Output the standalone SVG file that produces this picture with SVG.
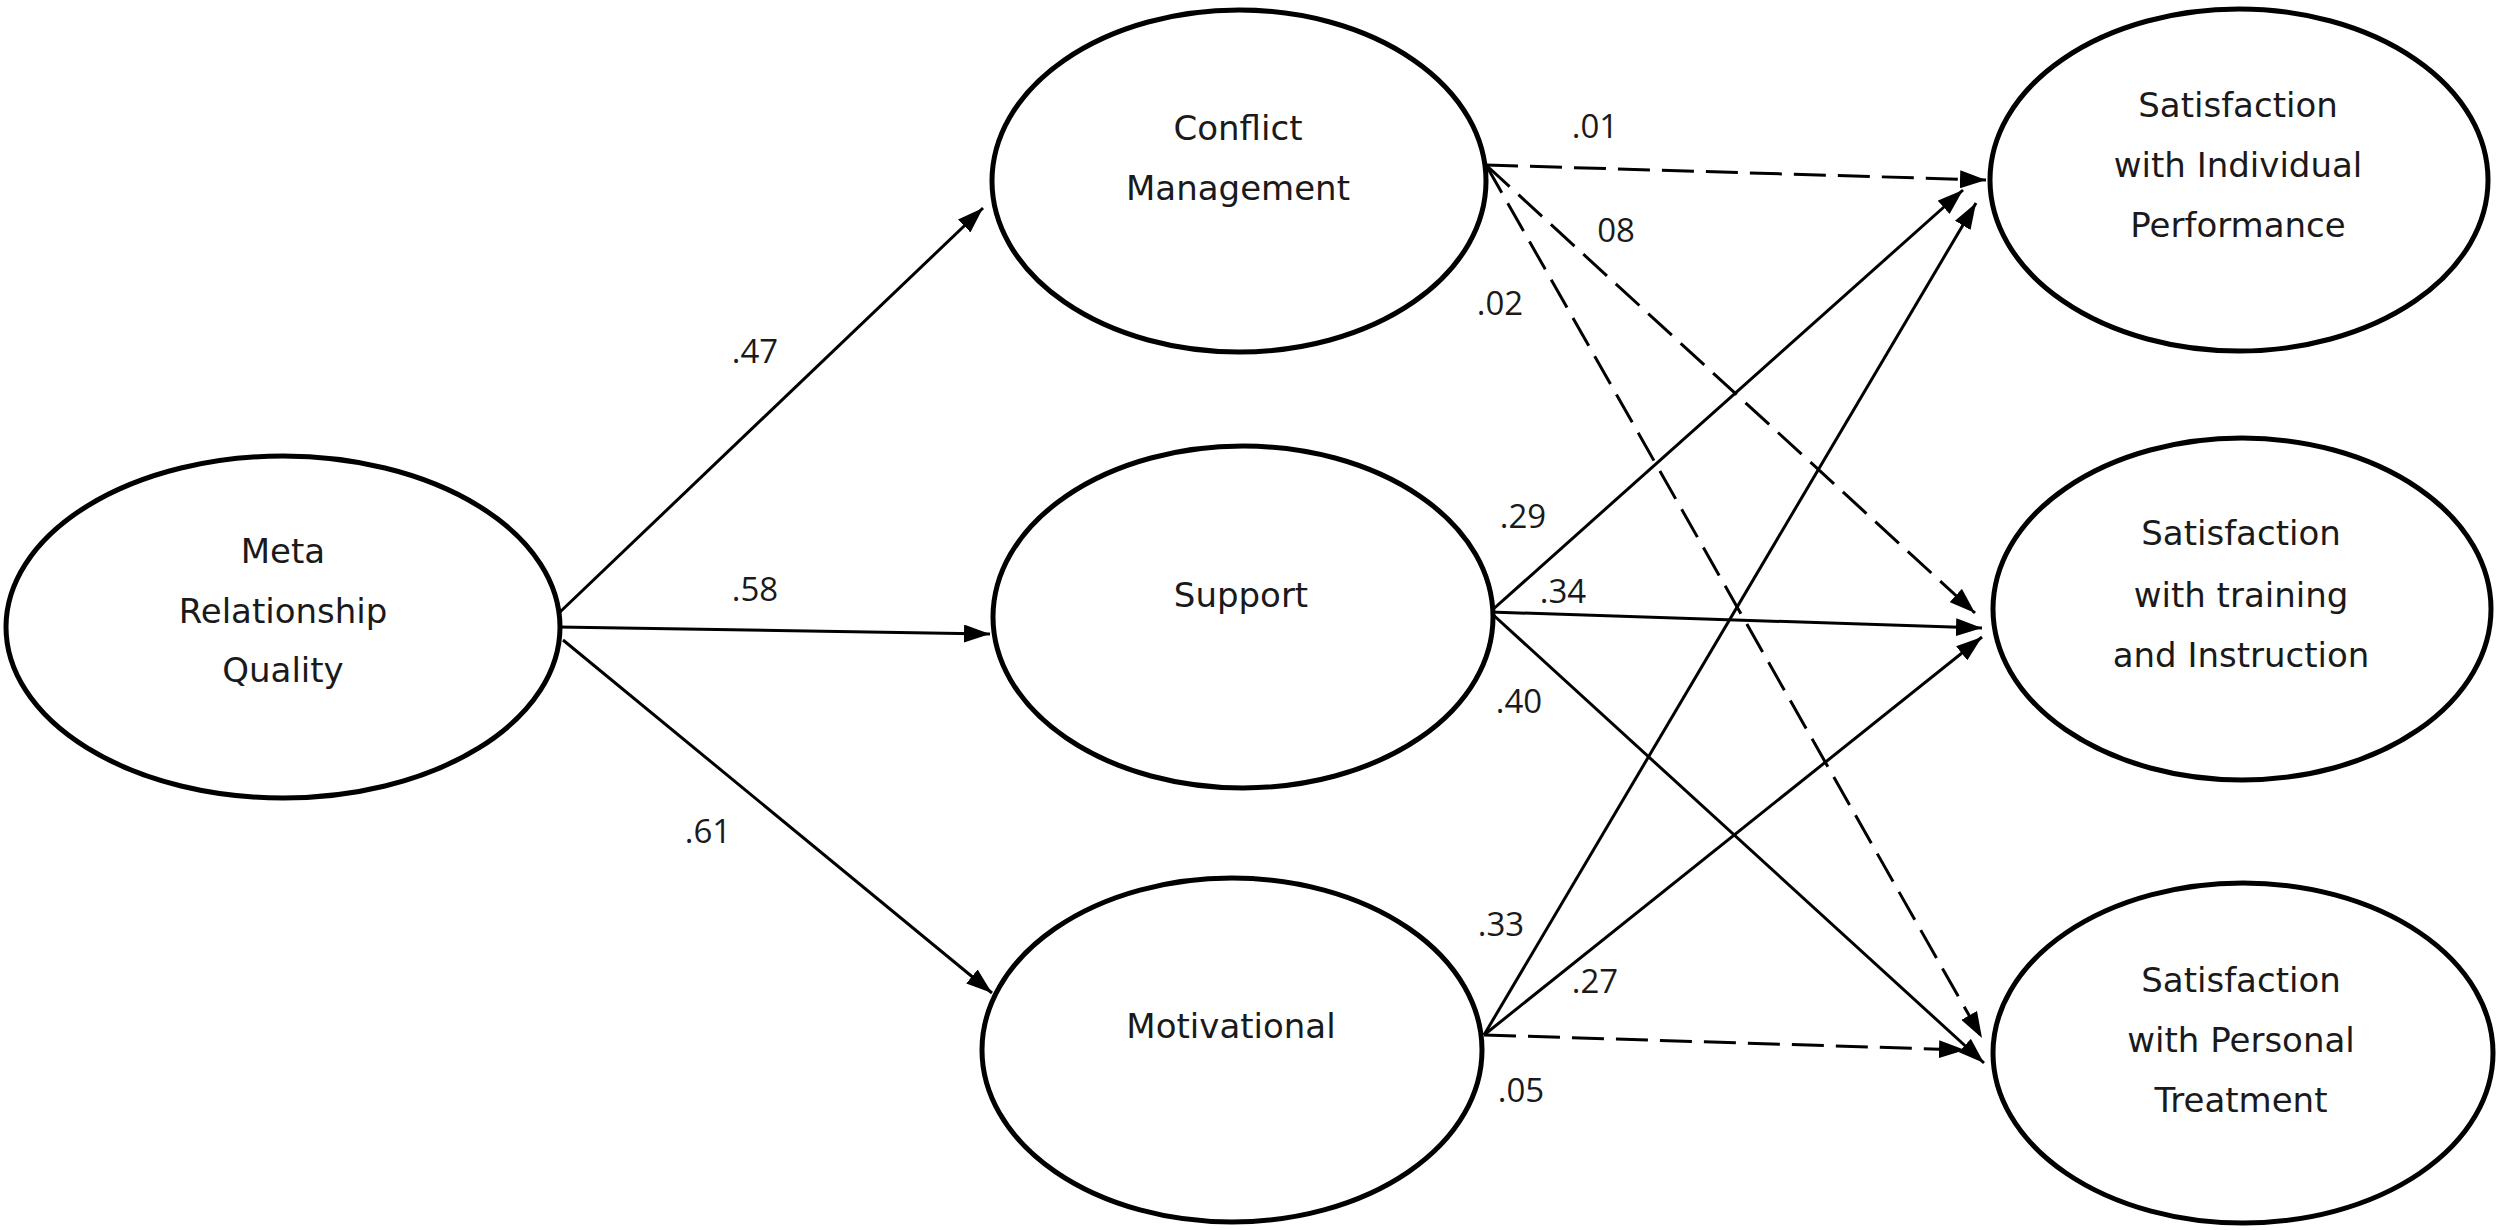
<svg xmlns="http://www.w3.org/2000/svg" width="2500" height="1230" viewBox="0 0 2500 1230">
<style>
.node ellipse{fill:#fff;stroke:#000;stroke-width:5}
.node text{font-family:"DejaVu Sans",sans-serif;font-size:34px;fill:#1a1a1a;text-anchor:middle}
.edge{stroke:#000;stroke-width:3;fill:none;marker-end:url(#arr)}
.dash{stroke-dasharray:32 12}
.lbl{font-family:"Open Sans",sans-serif;font-size:33px;fill:#1a1a1a;text-anchor:middle}
</style>
<defs>
<marker id="arr" markerUnits="userSpaceOnUse" markerWidth="26" markerHeight="18" refX="26" refY="9" orient="auto">
<path d="M0,0 L26,9 L0,18 z" fill="#000"/>
</marker>
</defs>
<rect width="2500" height="1230" fill="#fff"/>
<g id="connectors">
<line class="edge" x1="560" y1="612" x2="983" y2="208"/>
<line class="edge" x1="558" y1="627" x2="990" y2="634"/>
<line class="edge" x1="563" y1="640" x2="992" y2="993"/>
<line class="edge dash" x1="1486" y1="165" x2="1986" y2="180"/>
<line class="edge dash" x1="1486" y1="165" x2="1975" y2="613"/>
<line class="edge dash" x1="1486" y1="165" x2="1982" y2="1038"/>
<line class="edge" x1="1490" y1="612" x2="1963" y2="190"/>
<line class="edge" x1="1490" y1="612" x2="1982" y2="628"/>
<line class="edge" x1="1490" y1="612" x2="1984" y2="1063"/>
<line class="edge" x1="1484" y1="1035" x2="1976" y2="203"/>
<line class="edge" x1="1484" y1="1035" x2="1982" y2="637"/>
<line class="edge dash" x1="1484" y1="1035" x2="1965" y2="1050"/>
</g>
<g id="labels">
<text class="lbl" x="755" y="363">.47</text>
<text class="lbl" x="755" y="601">.58</text>
<text class="lbl" x="708" y="843">.61</text>
<text class="lbl" x="1595" y="138">.01</text>
<text class="lbl" x="1616" y="242">08</text>
<text class="lbl" x="1500" y="315">.02</text>
<text class="lbl" x="1523" y="528">.29</text>
<text class="lbl" x="1563" y="603">.34</text>
<text class="lbl" x="1519" y="713">.40</text>
<text class="lbl" x="1501" y="936">.33</text>
<text class="lbl" x="1595" y="993">.27</text>
<text class="lbl" x="1521" y="1102">.05</text>
</g>
<g id="meta" class="node">
<ellipse cx="283" cy="627" rx="277" ry="171"/>
<text x="283" y="563">Meta</text>
<text x="283" y="623">Relationship</text>
<text x="283" y="682">Quality</text>
</g>
<g id="conflict" class="node">
<ellipse cx="1239" cy="181" rx="247" ry="171"/>
<text x="1238" y="140">Conflict</text>
<text x="1238" y="200">Management</text>
</g>
<g id="support" class="node">
<ellipse cx="1243" cy="617" rx="250" ry="171"/>
<text x="1241" y="607">Support</text>
</g>
<g id="motivational" class="node">
<ellipse cx="1232" cy="1050" rx="250" ry="172"/>
<text x="1231" y="1038">Motivational</text>
</g>
<g id="individual" class="node">
<ellipse cx="2239" cy="180" rx="249" ry="171"/>
<text x="2238" y="117">Satisfaction</text>
<text x="2238" y="177">with Individual</text>
<text x="2238" y="237">Performance</text>
</g>
<g id="training" class="node">
<ellipse cx="2242" cy="609" rx="249" ry="171"/>
<text x="2241" y="545">Satisfaction</text>
<text x="2241" y="607">with training</text>
<text x="2241" y="667">and Instruction</text>
</g>
<g id="personal" class="node">
<ellipse cx="2243" cy="1053" rx="250" ry="170"/>
<text x="2241" y="992">Satisfaction</text>
<text x="2241" y="1052">with Personal</text>
<text x="2241" y="1112">Treatment</text>
</g>
</svg>
